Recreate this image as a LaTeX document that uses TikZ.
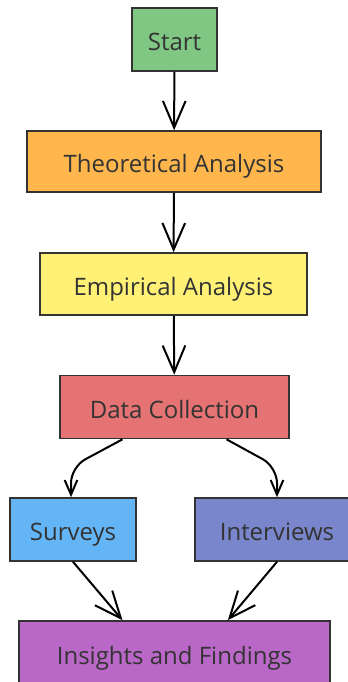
\documentclass[tikz,border=0pt]{standalone}
\usepackage{fontspec}
\setmainfont{Open Sans}
\usetikzlibrary{arrows.meta}
\definecolor{cstart}{HTML}{81C784}
\definecolor{ctheo}{HTML}{FFB74D}
\definecolor{cemp}{HTML}{FFF176}
\definecolor{cdata}{HTML}{E57373}
\definecolor{csurv}{HTML}{64B5F6}
\definecolor{cint}{HTML}{7986CB}
\definecolor{cins}{HTML}{BA68C8}
\definecolor{cborder}{HTML}{333333}
\definecolor{ctext}{HTML}{333333}
\tikzset{
  box/.style={draw=cborder, line width=1.2pt, rectangle, inner sep=0pt,
    text=ctext, font=\fontsize{18}{21}\selectfont, text height=21pt, text depth=4pt},
  conn/.style={line width=1.5pt, draw=black,
    -{Straight Barb[length=20pt, width=17pt, line width=1.5pt]}},
  connsmall/.style={line width=1.5pt, draw=black,
    -{Straight Barb[length=11pt, width=9.5pt, line width=1.5pt]}}
}
\begin{document}
\begin{tikzpicture}[x=0.75pt, y=-0.75pt]
\useasboundingbox (0,0) rectangle (348,682);
\node[box, fill=cstart, minimum width=63.75pt, minimum height=47.25pt] (start) at (174.5,39.5) {Start};
\node[box, fill=ctheo, minimum width=220.5pt, minimum height=45.75pt] (theo) at (174,161.5) {Theoretical Analysis};
\node[box, fill=cemp, minimum width=200.25pt, minimum height=46.5pt] (emp) at (173.5,284) {Empirical Analysis};
\node[box, fill=cdata, minimum width=171.75pt, minimum height=47.25pt] (data) at (174.5,407) {Data Collection};
\node[box, fill=csurv, minimum width=94.5pt, minimum height=47.25pt] (surv) at (73,529.5) {Surveys};
\node[box, fill=cint, minimum width=123pt, minimum height=47.25pt] (int) at (277,529.5) {Interviews};
\node[box, fill=cins, minimum width=233.25pt, minimum height=48pt] (ins) at (174.5,653) {Insights and Findings};

\coordinate (dl) at (71,467);
\coordinate (dr) at (277,467);
\draw[conn] (start) -- (theo);
\draw[conn] (theo) -- (emp);
\draw[conn] (emp) -- (data);
\draw[connsmall, rounded corners=12pt] ([xshift=-39pt]data.south) -- (dl) -- (dl |- surv.north);
\draw[connsmall, rounded corners=12pt] ([xshift=39pt]data.south) -- (dr) -- (dr |- int.north);
\draw[conn] (surv.south) -- ([xshift=-39pt]ins.north);
\draw[conn] (int.south) -- ([xshift=40pt]ins.north);
\end{tikzpicture}
\end{document}
